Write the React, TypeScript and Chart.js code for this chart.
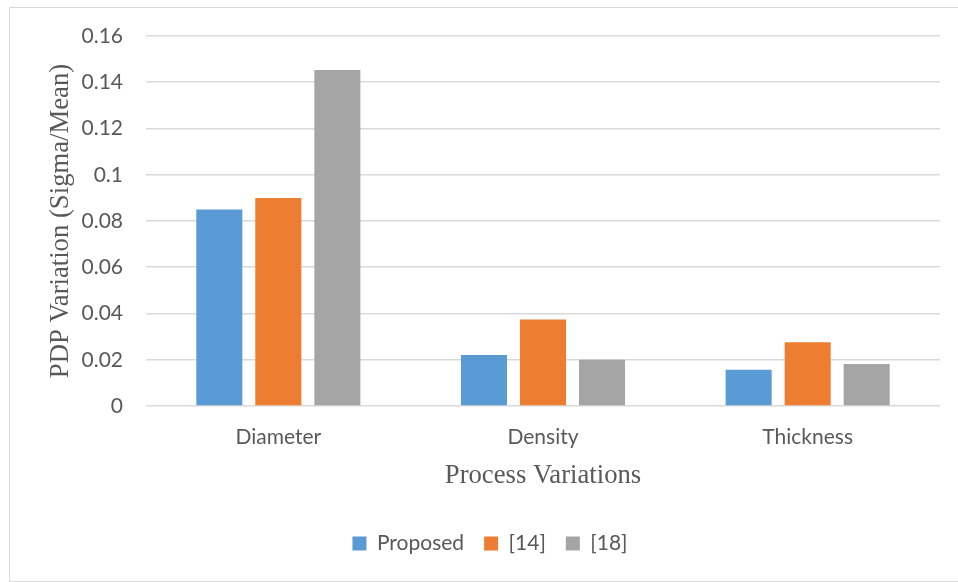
import React, { useEffect, useRef } from "react";
import { Chart, registerables } from "chart.js";

Chart.register(...registerables);

// Categories and series values
const categories = ["Diameter", "Density", "Thickness"];
const proposed = [0.085, 0.0221, 0.0157];
const ref14 = [0.09, 0.0374, 0.0276];
const ref18 = [0.1453, 0.02, 0.0182];
const seriesNames = ["Proposed", "[14]", "[18]"];
const seriesColors = ["#5B9BD5", "#ED7D31", "#A5A5A5"];

const yTitle = "PDP Variation (Sigma/Mean)";
const xTitle = "Process Variations";

const SANS = "Lato, 'Open Sans', sans-serif";
const SERIF = "'Liberation Serif', 'Times New Roman', serif";
const TEXT = "#595959";
const GRID = "#D9D9D9";

export default function App() {
  const canvasRef = useRef<HTMLCanvasElement | null>(null);

  useEffect(() => {
    const canvas = canvasRef.current;
    if (!canvas) return;
    const values = [proposed, ref14, ref18];
    const chart = new Chart(canvas, {
      type: "bar",
      data: {
        labels: categories,
        datasets: seriesNames.map((name, i) => ({
          label: name,
          data: values[i],
          backgroundColor: seriesColors[i],
          borderWidth: 0,
          categoryPercentage: 0.669,
          barPercentage: 0.78,
        })),
      },
      options: {
        animation: false,
        responsive: false,
        maintainAspectRatio: false,
        layout: { padding: { left: 30, right: 10, top: 28, bottom: 17 } },
        plugins: {
          tooltip: { enabled: false },
          legend: {
            position: "bottom",
            maxHeight: 51,
            labels: {
              boxWidth: 14,
              boxHeight: 14,
              padding: 20,
              color: TEXT,
              font: { family: SANS, size: 21 },
            },
          },
        },
        scales: {
          x: {
            grid: { display: false, drawTicks: false },
            border: { display: false },
            ticks: {
              color: TEXT,
              padding: 19,
              font: { family: SANS, size: 21 },
            },
            title: {
              display: true,
              text: xTitle,
              color: TEXT,
              font: { family: SERIF, size: 26.7 },
              padding: { top: 0, bottom: 21 },
            },
            afterFit: (scale: any) => {
              scale.height = 107;
            },
          },
          y: {
            min: 0,
            max: 0.16,
            grid: {
              color: GRID,
              lineWidth: 1.6,
              drawTicks: true,
              tickLength: 23,
              tickColor: "rgba(0,0,0,0)",
            },
            border: { display: false },
            ticks: {
              stepSize: 0.02,
              color: TEXT,
              padding: 0,
              font: { family: SANS, size: 21 },
              callback: (v: any) => String(Math.round(Number(v) * 100) / 100),
            },
            title: {
              display: true,
              text: yTitle,
              color: TEXT,
              font: { family: SERIF, size: 26.7 },
              padding: { top: 5, bottom: 0 },
            },
            afterFit: (scale: any) => {
              scale.width = 106;
            },
          },
        },
      },
    });
    return () => chart.destroy();
  }, []);

  return (
    <div
      style={{
        position: "absolute",
        top: 7,
        left: 9,
        width: 949,
        height: 575,
        boxSizing: "border-box",
        borderTop: "1px solid #D9D9D9",
        borderLeft: "1px solid #D9D9D9",
        borderBottom: "1px solid #D9D9D9",
        background: "#fff",
      }}
    >
      <canvas
        ref={canvasRef}
        width={940}
        height={573}
        style={{ display: "block", width: 940, height: 573 }}
      />
    </div>
  );
}
